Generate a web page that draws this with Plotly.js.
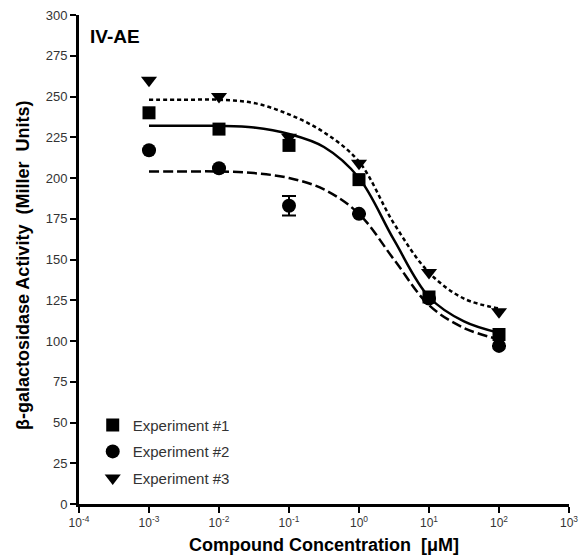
<!DOCTYPE html>
<html>
<head>
<meta charset="utf-8">
<script src="https://cdn.plot.ly/plotly-3.0.1.min.js"></script>
<style>html,body{margin:0;padding:0;background:#fff;}#chart{width:584px;height:558px;}</style>
</head>
<body>
<div id="chart"></div>
<script>
// Concentrations (µM)
const conc = [0.001, 0.01, 0.1, 1, 10, 100];
// Measured values (Miller units)
const exp1 = [240, 230, 220, 199, 127, 104];
const exp2 = [217, 206, 183, 178, 126, 97];
const exp2err = [0, 0, 6, 0, 0, 0];
const exp3 = [260, 250, 225, 209, 142, 118];

// Fitted curves
const curveX = [0.001, 0.00316, 0.01, 0.0316, 0.1, 0.316, 1, 3.16, 10, 31.6, 100];
const fit1 = [232, 232, 232, 231, 227, 219, 200, 162, 127, 112, 105];
const fit2 = [204, 204, 204, 203, 200, 193, 178, 150, 122, 108, 101];
const fit3 = [248, 248, 248, 246, 239, 228, 210, 172, 142, 126, 120];

const xTickVals = [1e-4, 1e-3, 1e-2, 1e-1, 1, 10, 100, 1000];
const xTickText = ['10<sup>-4</sup>','10<sup>-3</sup>','10<sup>-2</sup>','10<sup>-1</sup>','10<sup>0</sup>','10<sup>1</sup>','10<sup>2</sup>','10<sup>3</sup>'];

const names = ['Experiment #1', 'Experiment #2', 'Experiment #3'];
const yTitle = '<b>β-galactosidase Activity&nbsp; (Miller&nbsp; Units)</b>';
const xTitle = '<b>Compound Concentration&nbsp; [μM]</b>';

const FONT = 'Arial, "Liberation Sans", sans-serif';

const traces = [
  {x: curveX, y: fit1, mode: 'lines', line: {color: '#000', width: 2.5, shape: 'spline'}, showlegend: false, hoverinfo: 'skip'},
  {x: curveX, y: fit2, mode: 'lines', line: {color: '#000', width: 2.5, dash: '10px,4px', shape: 'spline'}, showlegend: false, hoverinfo: 'skip'},
  {x: curveX, y: fit3, mode: 'lines', line: {color: '#000', width: 2.5, dash: '4px,3px', shape: 'spline'}, showlegend: false, hoverinfo: 'skip'},
  {x: conc, y: exp1, name: names[0], legendgroup: 'a', mode: 'markers', marker: {symbol: 'square', size: 13, color: '#000'}},
  {x: conc, y: exp2, name: names[1], legendgroup: 'b', mode: 'markers', marker: {symbol: 'circle', size: 14, color: '#000'},
   error_y: {type: 'data', array: exp2err, visible: true, color: '#000', thickness: 2, width: 7}},
  {x: conc, y: exp3, name: names[2], legendgroup: 'c', mode: 'markers', marker: {symbol: 'triangle-down', size: 14, color: '#000'}}
];

const layout = {
  width: 584, height: 558,
  margin: {l: 79, r: 15, t: 15, b: 54},
  paper_bgcolor: '#fff', plot_bgcolor: '#fff',
  font: {family: FONT, color: '#333', size: 13},
  title: {text: '<b>IV-AE</b>', font: {family: FONT, size: 19, color: '#000'}, x: 90/584, xanchor: 'left', y: 1 - 36/558, yanchor: 'middle'},
  xaxis: {
    type: 'log', range: [-4, 3], tickvals: xTickVals, ticktext: xTickText,
    showline: true, linecolor: '#000', linewidth: 3, ticks: 'outside', ticklen: 6, tickwidth: 2, tickcolor: '#000',
    showgrid: false, zeroline: false, tickfont: {family: FONT, size: 12, color: '#333'},
    title: {text: xTitle, font: {family: FONT, size: 18, color: '#000'}, standoff: 9}
  },
  yaxis: {
    range: [0, 300], dtick: 25, tick0: 0,
    showline: true, linecolor: '#000', linewidth: 3, ticks: 'outside', ticklen: 6, tickwidth: 2, tickcolor: '#000',
    showgrid: false, zeroline: false, tickfont: {family: FONT, size: 13, color: '#333'}
  },
  annotations: [{
    text: yTitle, textangle: -90, xref: 'paper', yref: 'paper',
    x: (23 - 79) / 490, y: (504 - 266) / 489, xanchor: 'center', yanchor: 'middle', showarrow: false,
    font: {family: FONT, size: 18, color: '#000'}
  }],
  showlegend: true,
  legend: {x: 0.028, y: 0.195, xanchor: 'left', yanchor: 'top', bgcolor: 'rgba(0,0,0,0)', tracegroupgap: 4,
    font: {family: FONT, size: 15, color: '#333'}}
};

Plotly.newPlot('chart', traces, layout, {displayModeBar: false, staticPlot: true});
</script>
</body>
</html>
